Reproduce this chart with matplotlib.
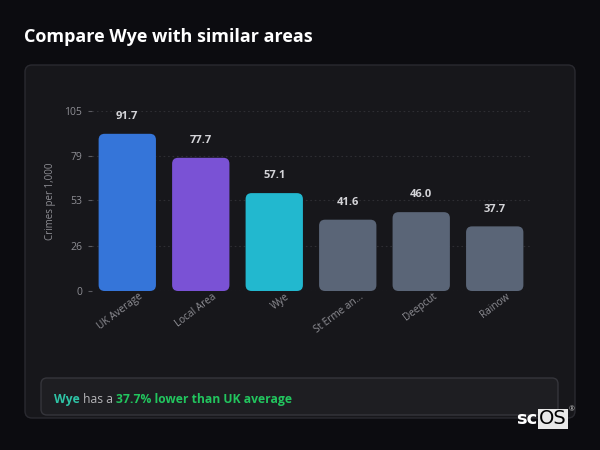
import matplotlib.pyplot as plt
import matplotlib.transforms as mtransforms
from matplotlib.patches import FancyBboxPatch

plt.rcParams['font.family'] = ['Open Sans', 'DejaVu Sans']

# data
areas = ['UK Average', 'Local Area', 'Wye', 'St Erme an...', 'Deepcut', 'Rainow']
rates = [91.7, 77.7, 57.1, 41.6, 46.0, 37.7]
bar_colors = ['#3575d9', '#7a52d5', '#22b8cf', '#5a6577', '#5a6577', '#5a6577']
yticks = [0, 26, 53, 79, 105]

W, H = 600, 450
bg = '#0c0c10'
fig = plt.figure(figsize=(6, 4.5), dpi=100, facecolor=bg)

def px(x0, y0, x1, y1):
    # pixel box (top-left origin) -> figure fraction rect
    return [x0 / W, 1 - y1 / H, (x1 - x0) / W, (y1 - y0) / H]

# background layer for card / summary / title
bgax = fig.add_axes([0, 0, 1, 1])
bgax.set_xlim(0, W)
bgax.set_ylim(H, 0)
bgax.axis('off')

card = FancyBboxPatch((25, 65), 550, 353, boxstyle='round,pad=0,rounding_size=7',
                      fc='#17171b', ec='#2a2a30', lw=1)
bgax.add_patch(card)
summ = FancyBboxPatch((41, 378), 517, 37, boxstyle='round,pad=0,rounding_size=6',
                      fc='#1e1e22', ec='#35353b', lw=1)
bgax.add_patch(summ)

bgax.text(24, 37, 'Compare Wye with similar areas', color='white', fontsize=13,
          fontweight='bold', va='center', ha='left')

# summary sentence built from pieces
t1 = bgax.text(54, 399.5, 'Wye', color='#2ec4a6', fontsize=8.7, fontweight='bold',
               va='center', ha='left')
t2 = bgax.annotate(' has a ', xy=(1, 0), xycoords=t1, va='bottom', ha='left',
                   color='#b5b5b8', fontsize=8.7)
t3 = bgax.annotate('37.7% lower than UK average', xy=(1, 0), xycoords=t2,
                   va='bottom', ha='left', color='#22c55e', fontsize=8.7, fontweight='bold')

# scOS logo
bgax.text(537, 419, 'sc', color='white', fontsize=13, fontweight='bold',
          va='center', ha='right', family='DejaVu Sans')
bgax.text(539, 419, 'OS', color='black', fontsize=14, va='center', ha='left',
          family='DejaVu Sans',
          bbox=dict(boxstyle='square,pad=0.05', fc='#e8e8e8', ec='none'))
bgax.text(572, 410, '®', color='#cccccc', fontsize=5, va='center', ha='center')

# chart
ax = fig.add_axes(px(92, 111, 530, 291))
ax.set_facecolor('none')
bars = ax.bar(range(len(areas)), rates, width=0.78, color=bar_colors)
ax.set_xlim(-0.48, len(areas) - 0.52)
ax.set_ylim(0, 105)

# swap plain bars for rounded ones
fig.canvas.draw()
bb = ax.get_window_extent()
x_per_px = (ax.get_xlim()[1] - ax.get_xlim()[0]) / bb.width
y_per_px = (ax.get_ylim()[1] - ax.get_ylim()[0]) / bb.height
for b in bars:
    x, y = b.get_x(), b.get_y()
    w, h = b.get_width(), b.get_height()
    rp = FancyBboxPatch((x, y), w, h,
                        boxstyle='round,pad=0,rounding_size=%f' % (6 * x_per_px),
                        mutation_aspect=y_per_px / x_per_px,
                        fc=b.get_facecolor(), ec='none')
    ax.add_patch(rp)
    b.remove()
    ax.annotate('%.1f' % h, xy=(x + w / 2, h), xytext=(0, 8.5),
                textcoords='offset points', ha='center', va='bottom',
                color='#d4d4d8', fontsize=8, fontweight='bold')

for s in ax.spines.values():
    s.set_visible(False)
ax.set_yticks(yticks)
ax.grid(axis='y', color='#2e2e33', linestyle=(0, (1.5, 2.5)), lw=0.8)
ax.set_axisbelow(True)
ax.tick_params(axis='y', colors='#5a5a60', labelcolor='#8e8e94', labelsize=7.5,
               length=3, width=0.8, pad=4)
ax.tick_params(axis='x', length=0, pad=0)
ax.set_xticks(range(len(areas)))
ax.set_xticklabels(areas, rotation=37, ha='right', rotation_mode='anchor',
                   color='#8e8e94', fontsize=7.2)
shift = mtransforms.ScaledTranslation(11 / 100, 0 / 100, fig.dpi_scale_trans)
for lab in ax.get_xticklabels():
    lab.set_transform(lab.get_transform() + shift)
ax.set_ylabel('Crimes per 1,000', color='#8e8e94', fontsize=7, labelpad=6)

fig.savefig('out.png', dpi=100, facecolor=bg)
